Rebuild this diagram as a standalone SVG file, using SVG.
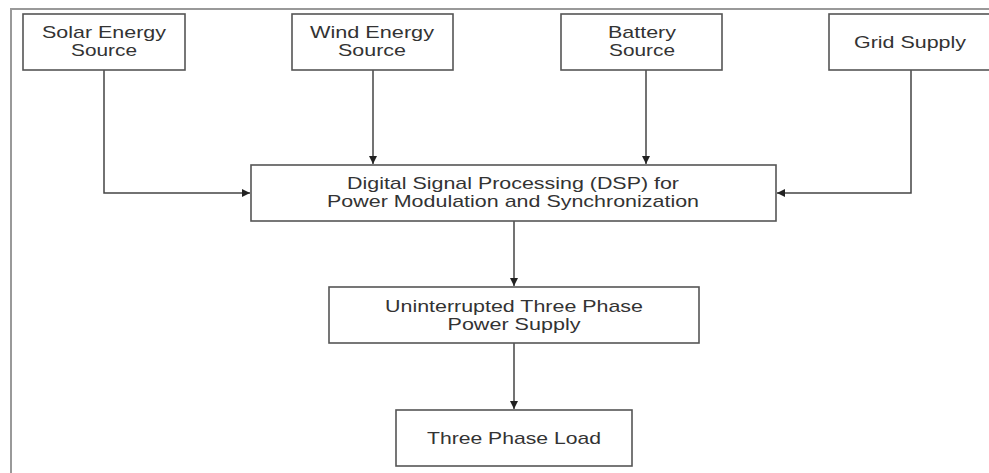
<svg xmlns="http://www.w3.org/2000/svg" width="989" height="473" viewBox="0 0 989 473">
<defs>
<style>
.box{fill:#fff;stroke:#555;stroke-width:1.6}
.t{font-family:"Liberation Sans",Arial,sans-serif;font-size:17px;fill:#333;text-anchor:middle}
.c{fill:none;stroke:#444;stroke-width:1.5}
.frame{fill:none;stroke:#999;stroke-width:2}
</style>
<marker id="ah" viewBox="0 0 10 10" refX="10" refY="5" markerWidth="8" markerHeight="8" markerUnits="userSpaceOnUse" orient="auto">
<path d="M0,0 L10,5 L0,10 z" fill="#222"/>
</marker>
</defs>
<rect width="989" height="473" fill="#fff"/>
<path class="frame" d="M11,473 L11,9 L989,9"/>
<g id="connectors">
<path class="c" d="M104,70 L104,193 L250,193" marker-end="url(#ah)"/>
<path class="c" d="M373,70 L373,164" marker-end="url(#ah)"/>
<path class="c" d="M646,70 L646,164" marker-end="url(#ah)"/>
<path class="c" d="M911,70 L911,193 L777,193" marker-end="url(#ah)"/>
<path class="c" d="M514,221 L514,286" marker-end="url(#ah)"/>
<path class="c" d="M514,343 L514,409" marker-end="url(#ah)"/>
</g>
<g id="solar">
<rect class="box" x="23" y="14" width="162" height="56"/>
<text class="t" x="104" y="38" textLength="124" lengthAdjust="spacingAndGlyphs">Solar Energy</text>
<text class="t" x="104" y="56" textLength="66" lengthAdjust="spacingAndGlyphs">Source</text>
</g>
<g id="wind">
<rect class="box" x="292" y="14" width="161" height="56"/>
<text class="t" x="372" y="38" textLength="124" lengthAdjust="spacingAndGlyphs">Wind Energy</text>
<text class="t" x="372" y="56" textLength="68" lengthAdjust="spacingAndGlyphs">Source</text>
</g>
<g id="battery">
<rect class="box" x="561" y="14" width="161" height="56"/>
<text class="t" x="642" y="38" textLength="68" lengthAdjust="spacingAndGlyphs">Battery</text>
<text class="t" x="642" y="56" textLength="66" lengthAdjust="spacingAndGlyphs">Source</text>
</g>
<g id="grid">
<rect class="box" x="829" y="14" width="166" height="56"/>
<text class="t" x="910" y="48" textLength="112" lengthAdjust="spacingAndGlyphs">Grid Supply</text>
</g>
<g id="dsp">
<rect class="box" x="251" y="165" width="525" height="56"/>
<text class="t" x="513" y="189" textLength="332" lengthAdjust="spacingAndGlyphs">Digital Signal Processing (DSP) for</text>
<text class="t" x="513" y="207" textLength="372" lengthAdjust="spacingAndGlyphs">Power Modulation and Synchronization</text>
</g>
<g id="ups">
<rect class="box" x="329" y="287" width="370" height="56"/>
<text class="t" x="514" y="312" textLength="258" lengthAdjust="spacingAndGlyphs">Uninterrupted Three Phase</text>
<text class="t" x="514" y="330" textLength="133" lengthAdjust="spacingAndGlyphs">Power Supply</text>
</g>
<g id="load">
<rect class="box" x="396" y="410" width="236" height="56"/>
<text class="t" x="514" y="444" textLength="174" lengthAdjust="spacingAndGlyphs">Three Phase Load</text>
</g>
</svg>
